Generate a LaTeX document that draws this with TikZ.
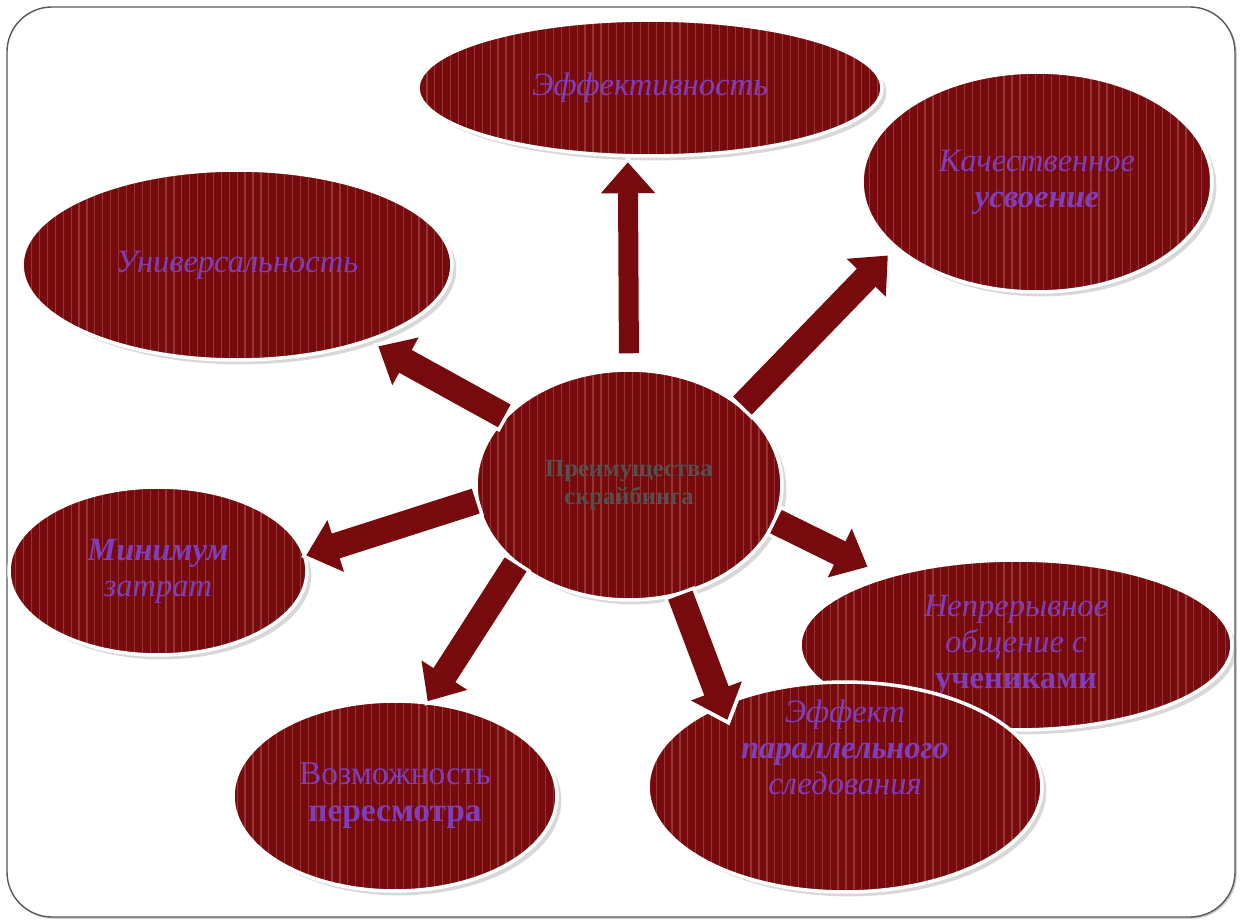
\documentclass[tikz,border=0pt]{standalone}
\usepackage{fontspec}
\setmainfont{Liberation Serif}
\usetikzlibrary{shapes.geometric}
\usetikzlibrary{arrows.meta}
\usetikzlibrary{patterns.meta}
\usetikzlibrary{shadows}

\definecolor{wine}{RGB}{118,10,12}
\definecolor{winestripe}{RGB}{150,52,52}
\definecolor{lilac}{RGB}{128,62,190}
\definecolor{slate}{RGB}{85,80,80}

\tikzset{
  caption/.style={text=lilac, align=center, font=\itshape\fontsize{18.5}{20.5}\selectfont},
  bubble/.style={ellipse, inner sep=0pt, draw=white, line width=2pt,
    drop shadow={shadow xshift=2.5pt, shadow yshift=-2.5pt, opacity=0.3},
    preaction={fill=wine},
    pattern={Lines[angle=90,distance=4.5pt,line width=0.7pt]}, pattern color=winestripe,
    caption},
  halo/.style={draw=white, line width=0.66cm, -{Triangle[width=1.35cm,length=0.8cm]}},
  shaft/.style={draw=wine, line width=0.52cm, -{Triangle[width=1.05cm,length=0.62cm]}}
}

\begin{document}
\begin{tikzpicture}[x=0.02cm, y=-0.02cm]
  \useasboundingbox (0,0) rectangle (1240,922);
  \draw[rounded corners=0.9cm, draw=gray!70!black, line width=0.8pt, fill=white,
    drop shadow={shadow xshift=1pt, shadow yshift=-1pt, opacity=0.4}] (7,7) rectangle (1235,917);

  % outer ring
  \node[bubble, minimum width=9.28cm, minimum height=2.72cm] (eff) at (650,88) {Эффективность};
  \node[bubble, minimum width=7cm, minimum height=4.4cm] (kach) at (1037,182) {Качественное\\\textbf{усвоение}};
  \node[bubble, minimum width=8.6cm, minimum height=3.8cm] (univ) at (237,265) {Универсальность};
  \node[bubble, minimum width=5.96cm, minimum height=3.36cm] (minim) at (158,571) {\textbf{Минимум}\\затрат};
  \node[bubble, minimum width=8.64cm, minimum height=3.4cm] (nepr) at (1016,645) {Непрерывное\\общение с\\\textbf{\upshape учениками}};
  \node[bubble, minimum width=7.88cm, minimum height=4.2cm,
    label={[caption, yshift=0.8cm]center:{Эффект\\\textbf{параллельного}\\следования}}] (effpar) at (845,787) {};
  \node[bubble, minimum width=6.48cm, minimum height=3.8cm, font=\fontsize{19}{21}\selectfont] (vozm) at (395,796) {Возможность\\\textbf{пересмотра}};

  % centre
  \node[bubble, minimum width=6.12cm, minimum height=4.6cm, text=slate,
    font=\bfseries\fontsize{14}{16}\selectfont] (core) at (629,485) {Преимущества\\скрайбинга};

  % block arrows
  \draw[halo, line width=0.54cm, shorten <=2.3mm, shorten >=0mm] (core.90) -- (eff.252);
  \draw[shaft, line width=0.4cm, shorten <=3mm, shorten >=1.2mm] (core.90) -- (eff.252);
  \draw[halo, shorten <=-0.7mm, shorten >=0.8mm] (core.35.5) -- (kach.205.5);
  \draw[shaft, shorten <=0mm, shorten >=2mm] (core.35.5) -- (kach.205.5);
  \draw[halo, shorten <=-0.7mm, shorten >=0.8mm] (core.151) -- (univ.330.4);
  \draw[shaft, shorten <=0mm, shorten >=2mm] (core.151) -- (univ.330.4);
  \draw[halo, shorten <=-0.7mm, shorten >=-1.1mm] (core.186.4) -- (minim.6.8);
  \draw[shaft, shorten <=0mm, shorten >=0mm] (core.186.4) -- (minim.6.8);
  \draw[halo, shorten <=-0.7mm, shorten >=-1.1mm] (core.215.3) -- (vozm.71.2);
  \draw[shaft, shorten <=0mm, shorten >=0mm] (core.215.3) -- (vozm.71.2);
  \draw[halo, shorten <=-0.7mm, shorten >=-4.7mm] (core.295) -- (effpar.146.1);
  \draw[shaft, shorten <=0mm, shorten >=-3.5mm] (core.295) -- (effpar.146.1);
  \draw[halo, shorten <=-0.7mm, shorten >=2.9mm] (core.346.8) -- (nepr.152.8);
  \draw[shaft, shorten <=0mm, shorten >=4mm] (core.346.8) -- (nepr.152.8);
\end{tikzpicture}
\end{document}
